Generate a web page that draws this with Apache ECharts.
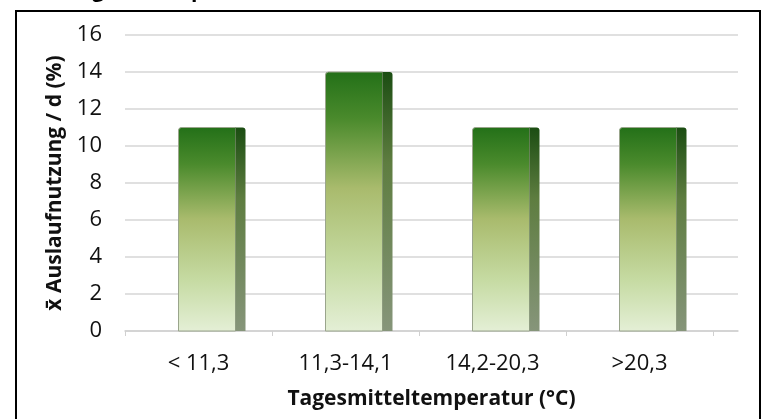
<!DOCTYPE html>
<html>
<head>
<meta charset="utf-8">
<script src="https://cdn.jsdelivr.net/npm/echarts@6/dist/echarts.min.js"></script>
<style>
html,body{margin:0;padding:0;background:#fff;}
#c{width:770px;height:419px;}
</style>
</head>
<body>
<div id="c"></div>
<script>
const categories = ['< 11,3', '11,3-14,1', '14,2-20,3', '>20,3'];
const values = [11, 14, 11, 11];
const yTicks = [0, 2, 4, 6, 8, 10, 12, 14, 16];
const yAxisTitle = 'x\u0304 Auslaufnutzung / d (%)';
const xAxisTitle = 'Tagesmitteltemperatur (°C)';
const titleParts = ['Auslaufnutzung', 'und Tem', 'peratur'];

const FONT = "'Open Sans', sans-serif";
const chart = echarts.init(document.getElementById('c'), null, {renderer: 'canvas'});

const barData = values.map((v, i) => [i, v]);

const frontGrad = () => new echarts.graphic.LinearGradient(0, 0, 0, 1, [
  {offset: 0, color: '#237018'},
  {offset: 0.18, color: '#4a8a2c'},
  {offset: 0.45, color: '#a9bb6d'},
  {offset: 0.75, color: '#c6dba3'},
  {offset: 1, color: '#e4efd6'}
]);
const sideGrad = () => new echarts.graphic.LinearGradient(0, 0, 0, 1, [
  {offset: 0, color: '#1b4d12'},
  {offset: 0.35, color: '#5e7d40'},
  {offset: 1, color: '#86957a'}
]);

const TF = "bold 21px " + FONT;
const option = {
  animation: false,
  backgroundColor: '#ffffff',
  graphic: [
    {type: 'rect', shape: {x: 16, y: 11, width: 744, height: 430},
     style: {fill: 'none', stroke: '#000', lineWidth: 2}, z: 100},
    {type: 'text', x: 104, y: 2, style: {text: titleParts[0], font: TF, fill: '#000', align: 'right', verticalAlign: 'bottom'}},
    {type: 'text', x: 191, y: 2, style: {text: titleParts[1], font: TF, fill: '#000', align: 'right', verticalAlign: 'bottom'}},
    {type: 'text', x: 191, y: 2, style: {text: titleParts[2], font: TF, fill: '#000', align: 'left', verticalAlign: 'bottom'}}
  ],
  grid: [
    {left: 125, right: 32, top: 35, bottom: 88},
    {left: 125, right: 57, top: 35, bottom: 88}
  ],
  xAxis: [
    {type: 'category', gridIndex: 0, data: [''], boundaryGap: true,
     axisLine: {show: true, lineStyle: {color: '#cfcfcf', width: 1.5}},
     axisTick: {show: false}, axisLabel: {show: false},
     name: xAxisTitle, nameLocation: 'middle', nameGap: 58,
     nameTextStyle: {fontFamily: FONT, fontWeight: 'bold', fontSize: 21, color: '#111'}},
    {type: 'category', gridIndex: 1, data: categories, boundaryGap: true,
     axisLine: {show: false},
     axisTick: {show: true, length: 5, lineStyle: {color: '#d0d0d0'}},
     axisLabel: {fontFamily: FONT, fontSize: 22, color: '#111', margin: 22}}
  ],
  yAxis: [
    {type: 'value', gridIndex: 0, min: yTicks[0], max: yTicks[yTicks.length - 1], interval: 2,
     axisLine: {show: false}, axisTick: {show: false},
     splitLine: {lineStyle: {color: '#d6d6d6', width: 1.5}},
     axisLabel: {fontFamily: FONT, fontSize: 22, color: '#111', margin: 23},
     name: yAxisTitle, nameLocation: 'middle', nameGap: 58,
     nameTextStyle: {fontFamily: FONT, fontWeight: 'bold', fontSize: 21, color: '#111'}},
    {type: 'value', gridIndex: 1, min: yTicks[0], max: yTicks[yTicks.length - 1], interval: 2,
     show: false, splitLine: {show: false}}
  ],
  series: [{
    type: 'custom',
    xAxisIndex: 1, yAxisIndex: 1,
    data: barData,
    encode: {x: 0, y: 1},
    renderItem: function (params, api) {
      const top = api.coord([api.value(0), api.value(1)]);
      const base = api.coord([api.value(0), 0]);
      const cx = top[0];
      const x0 = cx - 20, fw = 57, sw = 10;
      const h = base[1] - top[1];
      return {type: 'group', children: [
        {type: 'rect', shape: {x: x0, y: top[1], width: fw, height: h, r: [3, 0, 0, 0]},
         style: {fill: frontGrad(), stroke: '#9aa58c', lineWidth: 1}},
        {type: 'rect', shape: {x: x0 + fw, y: top[1], width: sw, height: h, r: [0, 3, 0, 0]},
         style: {fill: sideGrad()}}
      ]};
    }
  }]
};
chart.setOption(option);
</script>
</body>
</html>
